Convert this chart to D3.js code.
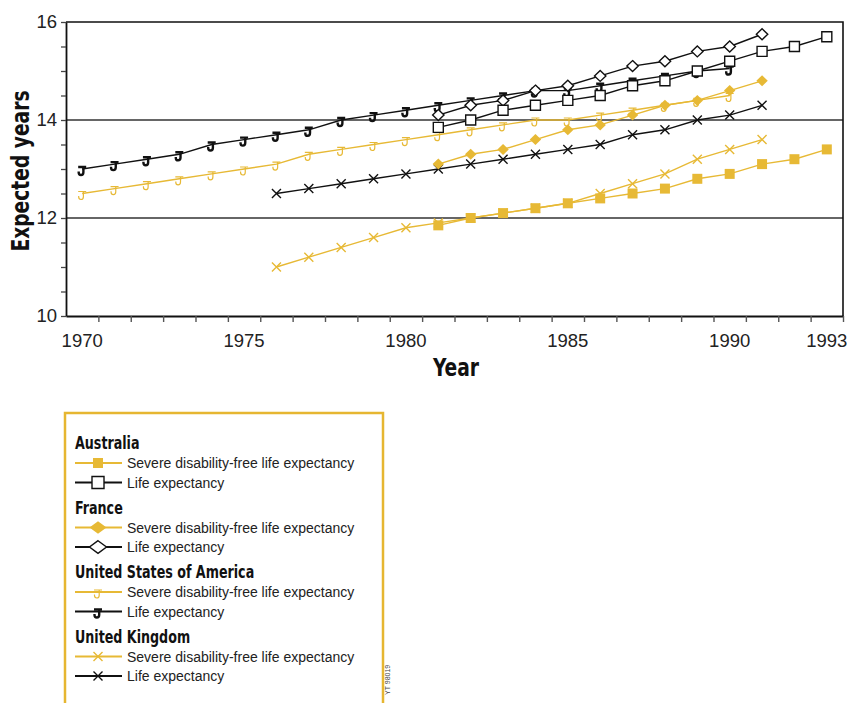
<!DOCTYPE html>
<html>
<head>
<meta charset="utf-8">
<script src="https://cdn.jsdelivr.net/npm/d3@7"></script>
<style>
  body { margin: 0; background: #fff; }
</style>
</head>
<body>
<div id="chart"></div>
<script>
// categories
const years = [1970, 1971, 1972, 1973, 1974, 1975, 1976, 1977, 1978, 1979, 1980, 1981,
  1982, 1983, 1984, 1985, 1986, 1987, 1988, 1989, 1990, 1991, 1992, 1993];
const xLabelYears = [1970, 1975, 1980, 1985, 1990, 1993];
const yTickValues = [10, 10.5, 11, 11.5, 12, 12.5, 13, 13.5, 14, 14.5, 15, 15.5, 16];
const yLabelValues = [10, 12, 14, 16];
const gridValues = [12, 14];

// Australia
const ausYears = [1981, 1982, 1983, 1984, 1985, 1986, 1987, 1988, 1989, 1990, 1991, 1992, 1993];
const ausLE = [13.85, 14.0, 14.2, 14.3, 14.4, 14.5, 14.7, 14.8, 15.0, 15.2, 15.4, 15.5, 15.7];
const ausSDFLE = [11.85, 12.0, 12.1, 12.2, 12.3, 12.4, 12.5, 12.6, 12.8, 12.9, 13.1, 13.2, 13.4];
// France
const fraYears = [1981, 1982, 1983, 1984, 1985, 1986, 1987, 1988, 1989, 1990, 1991];
const fraLE = [14.1, 14.3, 14.4, 14.6, 14.7, 14.9, 15.1, 15.2, 15.4, 15.5, 15.75];
const fraSDFLE = [13.1, 13.3, 13.4, 13.6, 13.8, 13.9, 14.1, 14.3, 14.4, 14.6, 14.8];
// United States of America
const usaYears = [1970, 1971, 1972, 1973, 1974, 1975, 1976, 1977, 1978, 1979, 1980,
  1981, 1982, 1983, 1984, 1985, 1986, 1987, 1988, 1989, 1990];
const usaLE = [13.0, 13.1, 13.2, 13.3, 13.5, 13.6, 13.7, 13.8, 14.0, 14.1, 14.2,
  14.3, 14.4, 14.5, 14.6, 14.6, 14.7, 14.8, 14.9, 15.0, 15.05];
const usaSDFLE = [12.5, 12.6, 12.7, 12.8, 12.9, 13.0, 13.1, 13.3, 13.4, 13.5, 13.6,
  13.7, 13.8, 13.9, 14.0, 14.0, 14.1, 14.2, 14.3, 14.4, 14.5];
// United Kingdom
const ukYears = [1976, 1977, 1978, 1979, 1980, 1981, 1982, 1983, 1984, 1985, 1986,
  1987, 1988, 1989, 1990, 1991];
const ukLE = [12.5, 12.6, 12.7, 12.8, 12.9, 13.0, 13.1, 13.2, 13.3, 13.4, 13.5,
  13.7, 13.8, 14.0, 14.1, 14.3];
const ukSDFLE = [11.0, 11.2, 11.4, 11.6, 11.8, 11.9, 12.0, 12.1, 12.2, 12.3, 12.5,
  12.7, 12.9, 13.2, 13.4, 13.6];

const countries = ["Australia", "France", "United States of America", "United Kingdom"];
const seriesLabels = ["Severe disability-free life expectancy", "Life expectancy"];

const YELLOW = "#e7b935",
  BLACK = "#111";
const BOLD_FONT = "'DejaVu Sans Condensed', 'Liberation Sans', sans-serif";
const SQUEEZE = 0.83; // no narrow heavy face installed, squeeze the condensed one

const series = [
  { country: 0, kind: 0, marker: "j-y", years: usaYears, values: usaSDFLE },
  { country: 0, kind: 1, marker: "j-b", years: usaYears, values: usaLE },
  { country: 3, kind: 0, marker: "x-y", years: ukYears, values: ukSDFLE },
  { country: 3, kind: 1, marker: "x-b", years: ukYears, values: ukLE },
  { country: 1, kind: 0, marker: "d-y", years: fraYears, values: fraSDFLE },
  { country: 1, kind: 1, marker: "d-b", years: fraYears, values: fraLE },
  { country: 2, kind: 0, marker: "s-y", years: ausYears, values: ausSDFLE },
  { country: 2, kind: 1, marker: "s-b", years: ausYears, values: ausLE },
].map((s) => ({ ...s, points: s.years.map((yr, i) => ({ year: yr, value: s.values[i] })) }));

// legend order: Australia, France, USA, UK
const legendMarkers = [
  ["s-y", "s-b"],
  ["d-y", "d-b"],
  ["j-y", "j-b"],
  ["x-y", "x-b"],
];

const width = 847,
  height = 703;

const svg = d3
  .select("#chart")
  .append("svg")
  .attr("width", width)
  .attr("height", height)
  .style("font-family", "'Liberation Sans', Arial, sans-serif");

const x = d3.scaleBand().domain(years).range([66, 843]);
const xEdge = d3.scaleLinear().domain([1970, 1994]).range([66, 843]);
const y = d3.scaleLinear().domain([10, 16]).range([316, 22]);
const cx = (yr) => x(yr) + x.bandwidth() / 2;

function markerPath(type, legend) {
  const t = type[0];
  if (t === "s") {
    const s = legend ? (type === "s-y" ? 5 : 6) : 5;
    return `M${-s},${-s}h${2 * s}v${2 * s}h${-2 * s}Z`;
  }
  if (t === "d") {
    const w = legend ? 8.5 : 5.7,
      h = legend ? 6.3 : 5.5;
    return `M0,${-h}L${w},0L0,${h}L${-w},0Z`;
  }
  if (t === "x") {
    const s = 4.5;
    return `M${-s},${-s}L${s},${s}M${-s},${s}L${s},${-s}`;
  }
  // J shaped marker
  return "M-4,-2H4M1.2,-2V3.2Q1.2,6 -1.2,6Q-3.5,6 -3.5,3.6V2.6";
}

function styleMarker(sel, type) {
  const yellow = type.endsWith("y");
  const t = type[0];
  if (t === "s" || t === "d") {
    sel
      .attr("fill", yellow ? YELLOW : "#fff")
      .attr("stroke", yellow ? "none" : BLACK)
      .attr("stroke-width", 1.4);
  } else if (t === "x") {
    sel.attr("fill", "none").attr("stroke", yellow ? YELLOW : BLACK).attr("stroke-width", 1.4);
  } else {
    sel
      .attr("fill", "none")
      .attr("stroke", yellow ? YELLOW : BLACK)
      .attr("stroke-width", yellow ? 1.2 : 2.4);
  }
}

// gridlines
svg
  .append("g")
  .selectAll("line")
  .data(gridValues)
  .join("line")
  .attr("x1", 66)
  .attr("x2", 843)
  .attr("y1", (d) => y(d))
  .attr("y2", (d) => y(d))
  .attr("stroke", "#333")
  .attr("stroke-width", 1.4);

// frame top/right
svg
  .append("path")
  .attr("d", `M66,${y(16)}H843V${y(10)}`)
  .attr("fill", "none")
  .attr("stroke", BLACK)
  .attr("stroke-width", 1.6);

// x axis ticks
const xAxisG = svg
  .append("g")
  .attr("transform", `translate(0,${y(10)})`)
  .call(
    d3
      .axisBottom(xEdge)
      .tickValues(years.slice(1).concat([1994]))
      .tickSize(6)
      .tickSizeOuter(0)
      .tickFormat("")
  );
xAxisG.select(".domain").attr("stroke", BLACK).attr("stroke-width", 1.8);
xAxisG.selectAll(".tick line").attr("stroke", "#555").attr("stroke-width", 1.4);

// x labels
svg
  .append("g")
  .selectAll("text")
  .data(xLabelYears)
  .join("text")
  .attr("x", (d) => cx(d))
  .attr("y", 347)
  .attr("text-anchor", "middle")
  .attr("font-size", 18.5)
  .attr("fill", "#222")
  .text((d) => d);

// y axis
const yAxisG = svg
  .append("g")
  .attr("transform", "translate(66,0)")
  .call(
    d3
      .axisLeft(y)
      .tickValues(yTickValues)
      .tickSize(5)
      .tickSizeOuter(0)
      .tickPadding(4)
      .tickFormat((d) => (yLabelValues.includes(d) ? d : ""))
  );
yAxisG.select(".domain").attr("stroke", BLACK).attr("stroke-width", 1.8);
yAxisG.selectAll(".tick line").attr("stroke", "#444").attr("stroke-width", 1.3);
yAxisG
  .selectAll(".tick text")
  .attr("font-size", 18.5)
  .attr("font-family", "'Liberation Sans', Arial, sans-serif")
  .attr("fill", "#222");

// axis titles
svg
  .append("text")
  .attr("transform", `translate(29,171) rotate(-90) scale(${SQUEEZE},1)`)
  .attr("text-anchor", "middle")
  .attr("font-family", BOLD_FONT)
  .attr("font-weight", "bold")
  .attr("font-size", 25)
  .attr("fill", BLACK)
  .text("Expected years");

svg
  .append("text")
  .attr("transform", `translate(456,376) scale(${SQUEEZE},1)`)
  .attr("text-anchor", "middle")
  .attr("font-family", BOLD_FONT)
  .attr("font-weight", "bold")
  .attr("font-size", 25)
  .attr("fill", BLACK)
  .text("Year");

// lines
const line = d3
  .line()
  .x((d) => cx(d.year))
  .y((d) => y(d.value));

svg
  .append("g")
  .selectAll("path")
  .data(series)
  .join("path")
  .attr("d", (s) => line(s.points))
  .attr("fill", "none")
  .attr("stroke", (s) => (s.kind === 0 ? YELLOW : BLACK))
  .attr("stroke-width", 1.4);

// markers
series.forEach((s) => {
  svg
    .append("g")
    .selectAll("path")
    .data(s.points)
    .join("path")
    .attr("transform", (d) => `translate(${cx(d.year)},${y(d.value)})`)
    .attr("d", markerPath(s.marker, false))
    .call(styleMarker, s.marker);
});

// legend
const legend = svg.append("g");
legend
  .append("rect")
  .attr("x", 65)
  .attr("y", 413)
  .attr("width", 318)
  .attr("height", 320)
  .attr("fill", "none")
  .attr("stroke", "#e6b631")
  .attr("stroke-width", 2.5);

countries.forEach((c, i) => {
  const top = 443 + i * 64.5;
  legend
    .append("text")
    .attr("transform", `translate(75,${top + 6}) scale(${SQUEEZE},1)`)
    .attr("font-family", BOLD_FONT)
    .attr("font-weight", "bold")
    .attr("font-size", 17)
    .attr("fill", BLACK)
    .text(c);
  seriesLabels.forEach((lbl, k) => {
    const ry = top + 20 + k * 19.5;
    const type = legendMarkers[i][k];
    legend
      .append("line")
      .attr("x1", 75)
      .attr("x2", 122)
      .attr("y1", ry)
      .attr("y2", ry)
      .attr("stroke", k === 0 ? YELLOW : BLACK)
      .attr("stroke-width", 2);
    legend
      .append("path")
      .attr("transform", `translate(98,${ry})`)
      .attr("d", markerPath(type, true))
      .call(styleMarker, type);
    legend
      .append("text")
      .attr("x", 127)
      .attr("y", ry + 5)
      .attr("font-size", 14)
      .attr("fill", "#222")
      .text(lbl);
  });
});

// figure code
svg
  .append("text")
  .attr("transform", "translate(390,695) rotate(-90)")
  .attr("font-size", 7)
  .attr("fill", "#444")
  .text("YT 98019");
</script>
</body>
</html>
